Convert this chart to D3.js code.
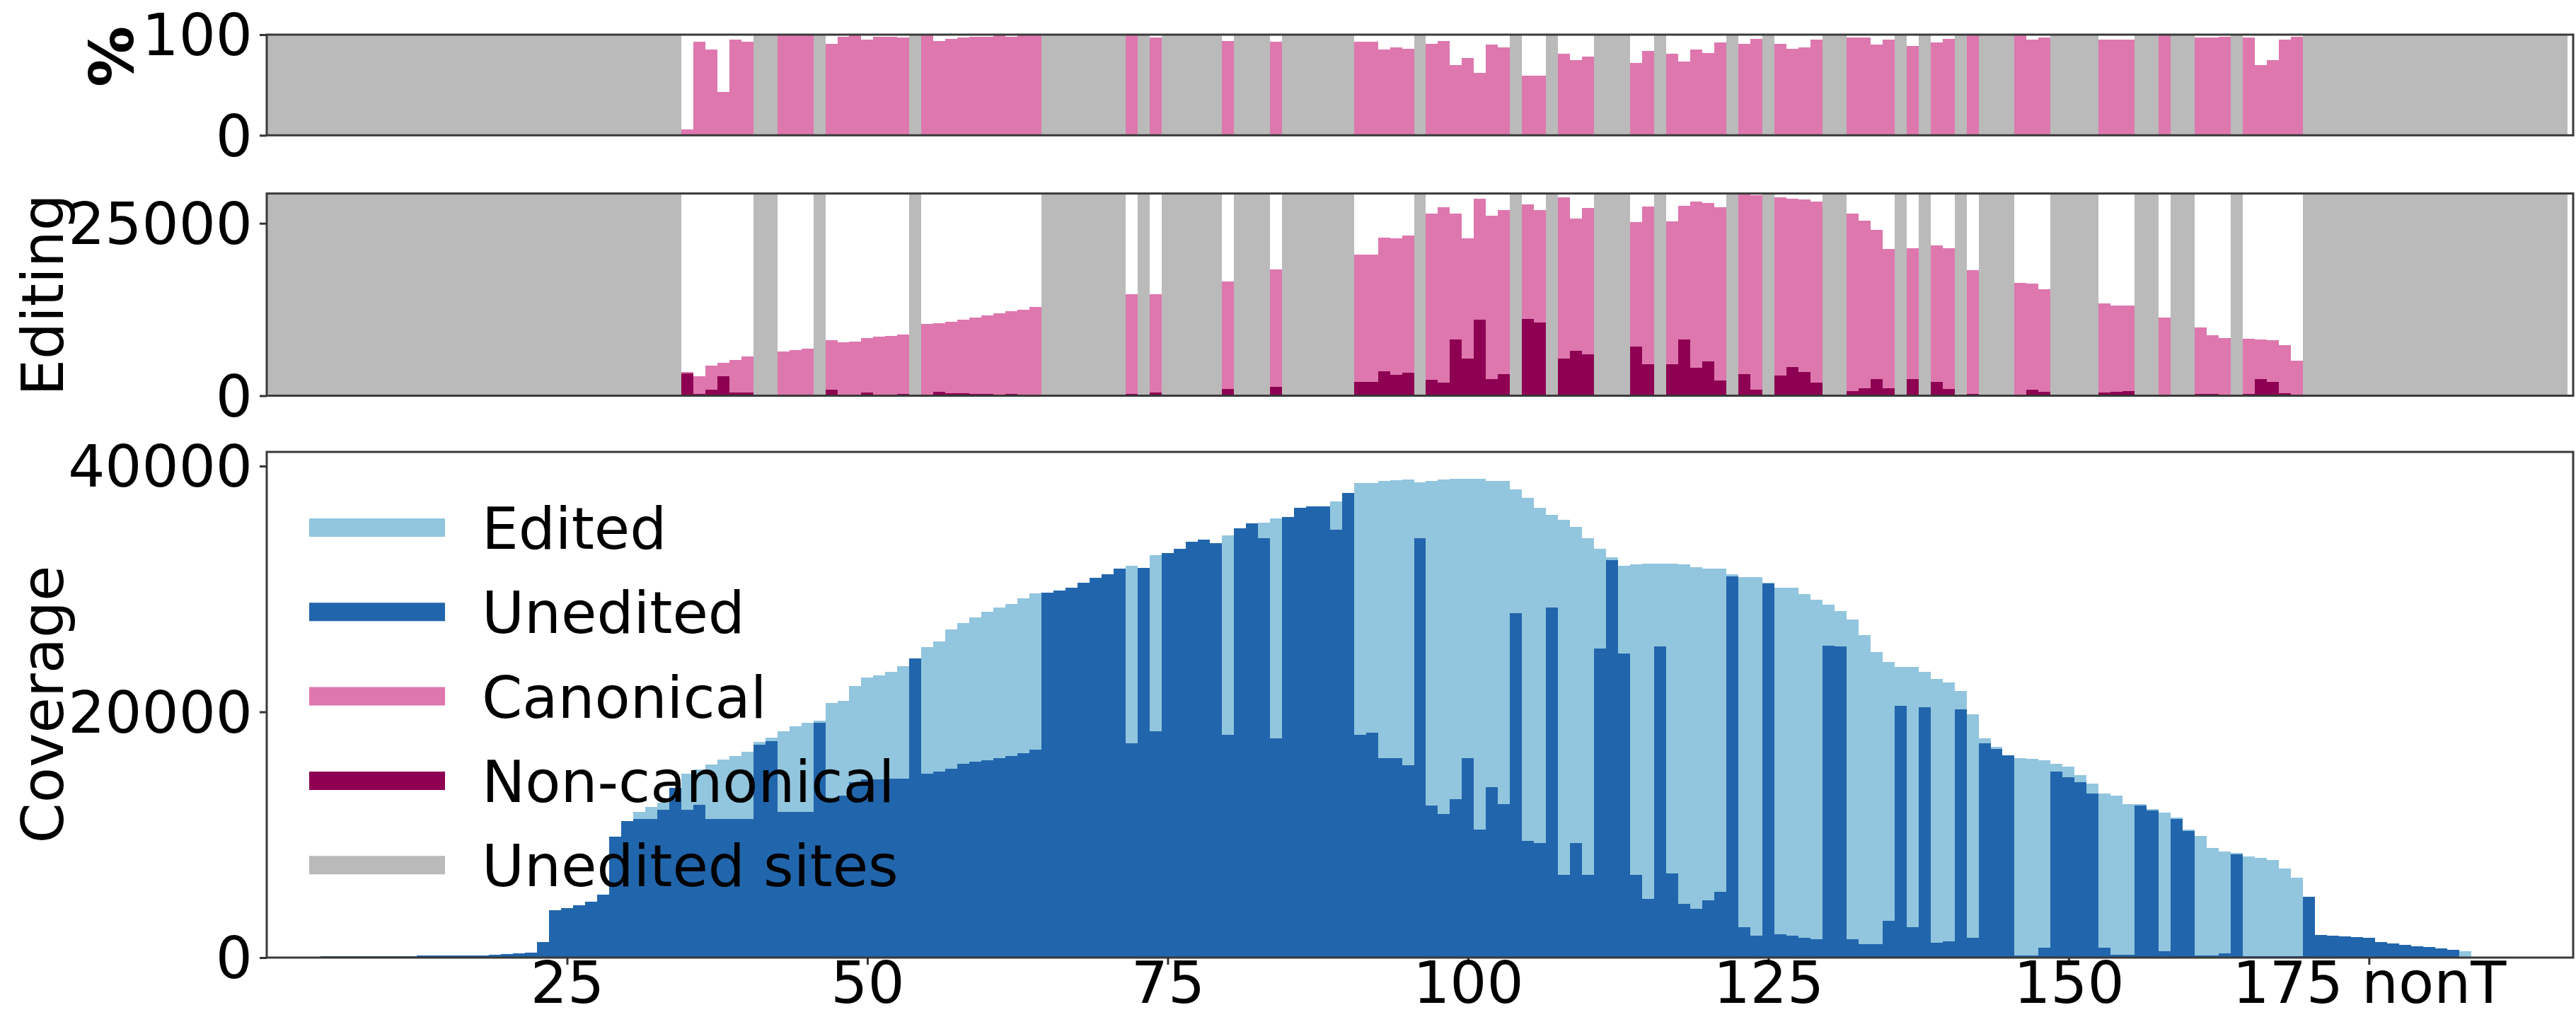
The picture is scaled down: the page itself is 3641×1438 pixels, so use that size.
<!DOCTYPE html>
<html><head><meta charset="utf-8">
<script src="https://cdn.jsdelivr.net/npm/d3@7"></script>
<style>
html,body{margin:0;padding:0;background:#fff;}
svg{display:block;}
text{font-family:"DejaVu Sans",sans-serif;}
</style></head>
<body>
<svg id="chart" width="3641" height="1438"></svg>
<script>
const _ = null;
// site positions (x categories)
const sites = d3.range(1, 192);

// Bottom panel: total coverage per site (light blue + dark blue)
const coverage = [
  0,0,0,0,130,130,130,130,130,140,
  140,140,160,160,170,170,170,180,250,280,
  330,380,1250,3850,4050,4250,4530,5110,9830,11090,
  11860,12240,12630,13790,14940,15330,15710,16100,16390,16770,
  17550,17900,18410,18800,19090,19300,20730,20920,22100,22820,
  22960,23240,23730,24340,25250,25710,26680,27230,27700,28140,
  28470,28800,29240,29620,29700,29900,30120,30530,30890,31220,
  31630,31910,31720,32730,32930,33280,33830,34030,33750,34390,
  34940,35350,35400,35760,35840,36590,36730,36730,37140,37830,
  38650,38650,38790,38870,38930,38700,38790,38930,38980,38980,
  38980,38790,38790,38100,37410,36590,36040,35620,35070,34110,
  33280,32600,31910,31990,32050,32050,32050,31990,31770,31630,
  31630,31220,30940,30940,30530,30120,30120,29570,29150,28740,
  28190,27500,26260,24890,24060,23650,23650,23240,22690,22410,
  21720,19790,17870,17180,16490,16220,16190,16080,15800,15530,
  14840,14150,13330,13190,12500,12500,12090,11810,11400,10430,
  9880,8920,8640,8510,8230,8090,7960,7270,6500,4930,
  1820,1760,1710,1650,1600,1270,1160,1020,940,850,
  720,660,520,0,0,0,0,0,0,0,
  0
];
// Bottom panel: unedited reads (dark blue)
const unedited = [
  0,0,0,0,130,130,130,130,130,140,
  140,140,160,160,170,170,170,180,250,280,
  330,380,1250,3850,4050,4250,4530,5110,9830,11090,
  11280,11300,12050,13790,12050,12440,11280,11280,11280,11280,
  17350,17640,11860,11860,11860,19090,12720,13190,14250,14480,
  14480,14560,14560,24340,14980,15110,15390,15750,15940,16080,
  16220,16410,16630,16900,29700,29900,30120,30530,30890,31220,
  31630,17450,31720,18420,32930,33280,33830,34030,33750,18140,
  34940,35350,34110,17870,35840,36590,36730,36730,34800,37830,
  18140,18280,16220,16220,15670,34110,12360,11670,12910,16220,
  10430,13880,12500,28050,9470,9330,28470,6720,9330,6720,
  25160,32320,24750,6720,4790,25300,6860,4380,3960,4650,
  5340,31000,2450,1760,30450,1900,1760,1620,1490,25380,
  25300,1490,1070,1070,3000,20480,2450,20350,1210,1350,
  20210,1620,17450,16960,16490,170,170,800,15110,14700,
  14290,13330,800,250,250,12360,12000,520,11260,10300,
  170,170,330,8420,110,110,110,110,110,4930,
  1820,1760,1710,1650,1600,1270,1160,1020,940,850,
  720,660,60,0,0,0,0,0,0,0,
  0
];
// Middle panel: edited reads per site (canonical + non-canonical); null = unedited site
const editingTotal = [
  _,_,_,_,_,_,_,_,_,_,
  _,_,_,_,_,_,_,_,_,_,
  _,_,_,_,_,_,_,_,_,_,
  _,_,_,_,3415,2830,4400,4790,5180,5650,
  _,_,6360,6630,6830,_,8010,7730,7850,8320,
  8520,8710,8910,_,10360,10480,10680,11070,11380,11660,
  11930,12250,12440,12840,_,_,_,_,_,_,
  _,14680,_,14680,_,_,_,_,_,16560,
  _,_,_,18330,_,_,_,_,_,_,
  20490,20490,22920,22840,23240,_,26380,27360,26380,22840,
  28610,26060,26970,_,27750,26970,_,28730,25670,27240,
  _,_,_,25200,27480,_,25280,27550,28140,27950,
  27360,_,29200,29120,_,28730,28610,28420,28140,_,
  _,26380,25400,24100,21270,_,21350,_,21750,21350,
  _,18210,_,_,_,16370,16250,15470,_,_,
  _,_,13350,13110,13110,_,_,11380,_,_,
  9890,8790,8400,_,8240,8130,8010,7340,5060,_,
  _,_,_,_,_,_,_,_,_,_,
  _,_,_,_,_,_,_,_,_,_,
  _
];
// Middle panel: non-canonical edited reads
const nonCanonical = [
  _,_,_,_,_,_,_,_,_,_,
  _,_,_,_,_,_,_,_,_,_,
  _,_,_,_,_,_,_,_,_,_,
  _,_,_,_,3200,280,860,2830,470,470,
  _,_,80,80,80,_,860,100,100,470,
  150,150,250,_,100,600,400,330,230,230,
  120,250,120,120,_,_,_,_,_,_,
  _,300,_,450,_,_,_,_,_,1000,
  _,_,_,1300,_,_,_,_,_,_,
  2040,2040,3530,3020,3300,_,2320,1850,8130,5380,
  11070,2430,3140,_,11150,10600,_,5380,6560,6050,
  _,_,_,7140,4590,_,4590,8130,4000,4990,
  2240,_,3140,860,_,2910,4120,3420,1850,_,
  _,670,1060,2430,1060,_,2430,_,2040,940,
  _,300,_,_,_,100,860,600,_,_,
  _,_,500,590,670,_,_,50,_,_,
  300,300,200,_,250,2430,2040,400,120,_,
  _,_,_,_,_,_,_,_,_,_,
  _,_,_,_,_,_,_,_,_,_,
  _
];
// Top panel: % canonical
const pctCanonical = [
  _,_,_,_,_,_,_,_,_,_,
  _,_,_,_,_,_,_,_,_,_,
  _,_,_,_,_,_,_,_,_,_,
  _,_,_,_,6,93,85,43,95,93,
  _,_,99,99,99,_,91,98,99,95,
  98,98,97,_,99,94,96,97,98,98,
  99,98,99,99,_,_,_,_,_,_,
  _,99,_,97,_,_,_,_,_,94,
  _,_,_,93,_,_,_,_,_,_,
  93,93,85,87,86,_,91,94,70,77,
  62,90,87,_,59,59,_,81,75,78,
  _,_,_,72,84,_,81,73,85,82,
  92,_,91,96,_,91,86,87,95,_,
  _,97,97,90,95,_,89,_,92,96,
  _,99,_,_,_,100,95,97,_,_,
  _,_,95,95,95,_,_,100,_,_,
  97,97,98,_,97,70,75,95,98,_,
  _,_,_,_,_,_,_,_,_,_,
  _,_,_,_,_,_,_,_,_,_,
  _
];
const xTickValues = [25, 50, 75, 100, 125, 150, 175];
const xTickLabels = ["25", "50", "75", "100", "125", "150", "175 nonT"];
const pctTicks = [0, 100];
const editTicks = [0, 25000];
const covTicks = [0, 20000, 40000];
const legendLabels = ["Edited", "Unedited", "Canonical", "Non-canonical", "Unedited sites"];

const COL = {edited:"#92c5de", unedited:"#2166ac", canonical:"#de77ae", noncanon:"#8e0152", gray:"#bababa"};
const legendColors = [COL.edited, COL.unedited, COL.canonical, COL.noncanon, COL.gray];

const FS = 82;
const svg = d3.select("#chart");
const x = d3.scaleLinear().domain([0, 192]).range([377, 3637]);

const panels = [
  {id:"pct", top:49, bottom:191.3, max:100, ticks:pctTicks, label:"%", labelX:188, labelY:80, labelSize:86, bold:true},
  {id:"edit", top:273.6, bottom:559.5, max:29320, ticks:editTicks, label:"Editing", labelX:89, labelY:417, labelSize:FS},
  {id:"cov", top:639, bottom:1354, max:41155, ticks:covTicks, label:"Coverage", labelX:89, labelY:996, labelSize:FS}
];
panels.forEach(p => { p.y = d3.scaleLinear().domain([0, p.max]).range([p.bottom, p.top]); });

const defs = svg.append("defs");
panels.forEach(p => {
  defs.append("clipPath").attr("id", "clip-" + p.id)
    .append("rect").attr("x", x.range()[0]).attr("y", p.top)
    .attr("width", x.range()[1] - x.range()[0]).attr("height", p.bottom - p.top);
});

// gray runs (unedited sites)
const runs = [];
let start = null;
sites.forEach((s, i) => {
  const g = editingTotal[i] === null;
  if (g && start === null) start = s;
  if (!g && start !== null) { runs.push([start, s - 1]); start = null; }
});
if (start !== null) runs.push([start, sites[sites.length - 1]]);

function bars(g, values, yScale, color) {
  const data = sites.map((s, i) => ({s, v: values[i]})).filter(d => d.v !== null && d.v > 0);
  g.selectAll(null).data(data).enter().append("rect")
    .attr("x", d => x(d.s - 0.5))
    .attr("width", d => x(d.s + 0.5) - x(d.s - 0.5))
    .attr("y", d => yScale(d.v))
    .attr("height", d => yScale(0) - yScale(d.v))
    .attr("fill", color)
    .attr("shape-rendering", "crispEdges");
}
function grayRuns(g, p) {
  const left = r => (r[0] === 1 ? x.domain()[0] : r[0] - 0.5);
  g.selectAll(null).data(runs).enter().append("rect")
    .attr("x", r => x(left(r)))
    .attr("width", r => x(r[1] + 0.5) - x(left(r)))
    .attr("y", p.top).attr("height", p.bottom - p.top)
    .attr("fill", COL.gray).attr("shape-rendering", "crispEdges");
}

// top panel
{
  const p = panels[0];
  const g = svg.append("g").attr("clip-path", "url(#clip-pct)");
  grayRuns(g, p);
  bars(g, pctCanonical, p.y, COL.canonical);
}
// middle panel
{
  const p = panels[1];
  const g = svg.append("g").attr("clip-path", "url(#clip-edit)");
  grayRuns(g, p);
  bars(g, editingTotal, p.y, COL.canonical);
  bars(g, nonCanonical, p.y, COL.noncanon);
}
// bottom panel
{
  const p = panels[2];
  const g = svg.append("g").attr("clip-path", "url(#clip-cov)");
  bars(g, coverage, p.y, COL.edited);
  bars(g, unedited, p.y, COL.unedited);
}

// axes, spines, labels
panels.forEach(p => {
  const ax = svg.append("g").attr("transform", `translate(${x.range()[0]},0)`)
    .call(d3.axisLeft(p.y).tickValues(p.ticks).tickSize(10).tickPadding(10).tickFormat(d3.format("d")));
  ax.select(".domain").remove();
  ax.selectAll(".tick line").attr("stroke", "#333").attr("stroke-width", 3);
  ax.selectAll(".tick text").attr("font-size", FS).attr("fill", "#000")
    .attr("font-family", "DejaVu Sans").attr("dy", "0.35em");
  svg.append("rect").attr("x", x.range()[0]).attr("y", p.top)
    .attr("width", x.range()[1] - x.range()[0]).attr("height", p.bottom - p.top)
    .attr("fill", "none").attr("stroke", "#3a3a3a").attr("stroke-width", 3);
  svg.append("text")
    .attr("transform", `translate(${p.labelX},${p.labelY}) rotate(-90)`)
    .attr("text-anchor", "middle")
    .attr("font-size", p.labelSize)
    .attr("font-weight", p.bold ? "bold" : "normal")
    .attr("fill", "#000")
    .text(p.label);
});

// x axis (bottom panel only)
{
  const p = panels[2];
  const ax = svg.append("g").attr("transform", `translate(0,${p.bottom})`)
    .call(d3.axisBottom(x).tickValues(xTickValues).tickSize(10).tickPadding(0)
      .tickFormat((d, i) => xTickLabels[i]));
  ax.select(".domain").remove();
  ax.selectAll(".tick line").attr("stroke", "#333").attr("stroke-width", 3);
  ax.selectAll(".tick text").attr("font-size", FS).attr("fill", "#000")
    .attr("font-family", "DejaVu Sans").attr("dy", "0.66em");
}

// legend
{
  const lg = svg.append("g");
  const y0 = 746, dy = 119.3;
  legendLabels.forEach((lab, i) => {
    const cy = y0 + i * dy;
    lg.append("line").attr("x1", 437).attr("x2", 629).attr("y1", cy).attr("y2", cy)
      .attr("stroke", legendColors[i]).attr("stroke-width", 26);
    lg.append("text").attr("x", 681).attr("y", cy + 30).attr("font-size", FS)
      .attr("fill", "#000").text(lab);
  });
}
</script>
</body></html>
